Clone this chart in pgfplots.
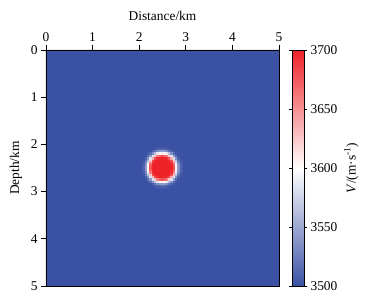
\documentclass[border=0pt]{standalone}
\usepackage{fontspec}
\setmainfont{Liberation Serif}
\usepackage{pgfplots}
\pgfplotsset{compat=1.18}
\definecolor{bgblue}{RGB}{59,82,164}
\begin{document}
\begin{tikzpicture}
\begin{axis}[
  at={(0pt,0pt)}, anchor=south west,
  scale only axis, width=233pt, height=236pt,
  xmin=0, xmax=5, ymin=0, ymax=5, y dir=reverse,
  xtick={0,1,2,3,4,5}, ytick={0,1,2,3,4,5},
  xtick pos=upper, ytick pos=left, xticklabel pos=upper,
  tick align=outside, major tick length=5pt,
  every tick/.style={black, line width=0.6pt},
  axis line style={line width=0.8pt},
  axis on top,
  xlabel={Distance/km}, ylabel={Depth/km},
  xlabel style={font=\fontsize{13.4}{15}\selectfont, yshift=5pt},
  ylabel style={font=\fontsize{13.4}{15}\selectfont, yshift=2pt},
  ticklabel style={font=\fontsize{13.4}{15}\selectfont},
  /pgf/number format/assume math mode=true,
  point meta min=3500, point meta max=3700,
  colormap={bwr}{rgb255=(59,82,164) rgb255=(255,255,255) rgb255=(237,34,40)},
  colorbar right,
  colorbar style={
    at={(parent axis.north east)}, anchor=north west, xshift=4.5pt,
    width=12pt,
    ytick={3500,3550,3600,3650,3700},
    tick align=outside, major tick length=3pt,
    yticklabel pos=right,
    ticklabel style={font=\fontsize{13.4}{15}\selectfont},
    /pgf/number format/assume math mode=true,
    /pgf/number format/1000 sep={},
    ylabel={\textit{V}/(m\textperiodcentered s\textsuperscript{-1})},
    ylabel style={font=\fontsize{13.4}{15}\selectfont},
    axis line style={line width=0.8pt},
  },
]
\addplot[fill=bgblue, draw=none] coordinates {(0,0) (5,0) (5,5) (0,5) (0,0)};
\addplot[matrix plot*, mesh/cols=17, point meta=explicit] table[meta=v, row sep=\\] {
x y v\\
2.10 2.10 3500\\ 2.15 2.10 3500\\ 2.20 2.10 3500\\ 2.25 2.10 3500\\ 2.30 2.10 3500\\ 2.35 2.10 3503\\ 2.40 2.10 3507\\ 2.45 2.10 3509\\ 2.50 2.10 3510\\ 2.55 2.10 3509\\ 2.60 2.10 3507\\ 2.65 2.10 3503\\ 2.70 2.10 3500\\ 2.75 2.10 3500\\ 2.80 2.10 3500\\ 2.85 2.10 3500\\ 2.90 2.10 3500\\
2.10 2.15 3500\\ 2.15 2.15 3500\\ 2.20 2.15 3500\\ 2.25 2.15 3502\\ 2.30 2.15 3509\\ 2.35 2.15 3520\\ 2.40 2.15 3533\\ 2.45 2.15 3542\\ 2.50 2.15 3545\\ 2.55 2.15 3542\\ 2.60 2.15 3533\\ 2.65 2.15 3520\\ 2.70 2.15 3509\\ 2.75 2.15 3502\\ 2.80 2.15 3500\\ 2.85 2.15 3500\\ 2.90 2.15 3500\\
2.10 2.20 3500\\ 2.15 2.20 3500\\ 2.20 2.20 3503\\ 2.25 2.20 3515\\ 2.30 2.20 3536\\ 2.35 2.20 3563\\ 2.40 2.20 3587\\ 2.45 2.20 3604\\ 2.50 2.20 3610\\ 2.55 2.20 3604\\ 2.60 2.20 3587\\ 2.65 2.20 3563\\ 2.70 2.20 3536\\ 2.75 2.20 3515\\ 2.80 2.20 3503\\ 2.85 2.20 3500\\ 2.90 2.20 3500\\
2.10 2.25 3500\\ 2.15 2.25 3502\\ 2.20 2.25 3515\\ 2.25 2.25 3542\\ 2.30 2.25 3582\\ 2.35 2.25 3625\\ 2.40 2.25 3657\\ 2.45 2.25 3674\\ 2.50 2.25 3680\\ 2.55 2.25 3674\\ 2.60 2.25 3657\\ 2.65 2.25 3625\\ 2.70 2.25 3582\\ 2.75 2.25 3542\\ 2.80 2.25 3515\\ 2.85 2.25 3502\\ 2.90 2.25 3500\\
2.10 2.30 3500\\ 2.15 2.30 3509\\ 2.20 2.30 3536\\ 2.25 2.30 3582\\ 2.30 2.30 3637\\ 2.35 2.30 3680\\ 2.40 2.30 3695\\ 2.45 2.30 3699\\ 2.50 2.30 3700\\ 2.55 2.30 3699\\ 2.60 2.30 3695\\ 2.65 2.30 3680\\ 2.70 2.30 3637\\ 2.75 2.30 3582\\ 2.80 2.30 3536\\ 2.85 2.30 3509\\ 2.90 2.30 3500\\
2.10 2.35 3503\\ 2.15 2.35 3520\\ 2.20 2.35 3563\\ 2.25 2.35 3625\\ 2.30 2.35 3680\\ 2.35 2.35 3698\\ 2.40 2.35 3700\\ 2.45 2.35 3700\\ 2.50 2.35 3700\\ 2.55 2.35 3700\\ 2.60 2.35 3700\\ 2.65 2.35 3698\\ 2.70 2.35 3680\\ 2.75 2.35 3625\\ 2.80 2.35 3563\\ 2.85 2.35 3520\\ 2.90 2.35 3503\\
2.10 2.40 3507\\ 2.15 2.40 3533\\ 2.20 2.40 3587\\ 2.25 2.40 3657\\ 2.30 2.40 3695\\ 2.35 2.40 3700\\ 2.40 2.40 3700\\ 2.45 2.40 3700\\ 2.50 2.40 3700\\ 2.55 2.40 3700\\ 2.60 2.40 3700\\ 2.65 2.40 3700\\ 2.70 2.40 3695\\ 2.75 2.40 3657\\ 2.80 2.40 3587\\ 2.85 2.40 3533\\ 2.90 2.40 3507\\
2.10 2.45 3509\\ 2.15 2.45 3542\\ 2.20 2.45 3604\\ 2.25 2.45 3674\\ 2.30 2.45 3699\\ 2.35 2.45 3700\\ 2.40 2.45 3700\\ 2.45 2.45 3700\\ 2.50 2.45 3700\\ 2.55 2.45 3700\\ 2.60 2.45 3700\\ 2.65 2.45 3700\\ 2.70 2.45 3699\\ 2.75 2.45 3674\\ 2.80 2.45 3604\\ 2.85 2.45 3542\\ 2.90 2.45 3509\\
2.10 2.50 3510\\ 2.15 2.50 3545\\ 2.20 2.50 3610\\ 2.25 2.50 3680\\ 2.30 2.50 3700\\ 2.35 2.50 3700\\ 2.40 2.50 3700\\ 2.45 2.50 3700\\ 2.50 2.50 3700\\ 2.55 2.50 3700\\ 2.60 2.50 3700\\ 2.65 2.50 3700\\ 2.70 2.50 3700\\ 2.75 2.50 3680\\ 2.80 2.50 3610\\ 2.85 2.50 3545\\ 2.90 2.50 3510\\
2.10 2.55 3509\\ 2.15 2.55 3542\\ 2.20 2.55 3604\\ 2.25 2.55 3674\\ 2.30 2.55 3699\\ 2.35 2.55 3700\\ 2.40 2.55 3700\\ 2.45 2.55 3700\\ 2.50 2.55 3700\\ 2.55 2.55 3700\\ 2.60 2.55 3700\\ 2.65 2.55 3700\\ 2.70 2.55 3699\\ 2.75 2.55 3674\\ 2.80 2.55 3604\\ 2.85 2.55 3542\\ 2.90 2.55 3509\\
2.10 2.60 3507\\ 2.15 2.60 3533\\ 2.20 2.60 3587\\ 2.25 2.60 3657\\ 2.30 2.60 3695\\ 2.35 2.60 3700\\ 2.40 2.60 3700\\ 2.45 2.60 3700\\ 2.50 2.60 3700\\ 2.55 2.60 3700\\ 2.60 2.60 3700\\ 2.65 2.60 3700\\ 2.70 2.60 3695\\ 2.75 2.60 3657\\ 2.80 2.60 3587\\ 2.85 2.60 3533\\ 2.90 2.60 3507\\
2.10 2.65 3503\\ 2.15 2.65 3520\\ 2.20 2.65 3563\\ 2.25 2.65 3625\\ 2.30 2.65 3680\\ 2.35 2.65 3698\\ 2.40 2.65 3700\\ 2.45 2.65 3700\\ 2.50 2.65 3700\\ 2.55 2.65 3700\\ 2.60 2.65 3700\\ 2.65 2.65 3698\\ 2.70 2.65 3680\\ 2.75 2.65 3625\\ 2.80 2.65 3563\\ 2.85 2.65 3520\\ 2.90 2.65 3503\\
2.10 2.70 3500\\ 2.15 2.70 3509\\ 2.20 2.70 3536\\ 2.25 2.70 3582\\ 2.30 2.70 3637\\ 2.35 2.70 3680\\ 2.40 2.70 3695\\ 2.45 2.70 3699\\ 2.50 2.70 3700\\ 2.55 2.70 3699\\ 2.60 2.70 3695\\ 2.65 2.70 3680\\ 2.70 2.70 3637\\ 2.75 2.70 3582\\ 2.80 2.70 3536\\ 2.85 2.70 3509\\ 2.90 2.70 3500\\
2.10 2.75 3500\\ 2.15 2.75 3502\\ 2.20 2.75 3515\\ 2.25 2.75 3542\\ 2.30 2.75 3582\\ 2.35 2.75 3625\\ 2.40 2.75 3657\\ 2.45 2.75 3674\\ 2.50 2.75 3680\\ 2.55 2.75 3674\\ 2.60 2.75 3657\\ 2.65 2.75 3625\\ 2.70 2.75 3582\\ 2.75 2.75 3542\\ 2.80 2.75 3515\\ 2.85 2.75 3502\\ 2.90 2.75 3500\\
2.10 2.80 3500\\ 2.15 2.80 3500\\ 2.20 2.80 3503\\ 2.25 2.80 3515\\ 2.30 2.80 3536\\ 2.35 2.80 3563\\ 2.40 2.80 3587\\ 2.45 2.80 3604\\ 2.50 2.80 3610\\ 2.55 2.80 3604\\ 2.60 2.80 3587\\ 2.65 2.80 3563\\ 2.70 2.80 3536\\ 2.75 2.80 3515\\ 2.80 2.80 3503\\ 2.85 2.80 3500\\ 2.90 2.80 3500\\
2.10 2.85 3500\\ 2.15 2.85 3500\\ 2.20 2.85 3500\\ 2.25 2.85 3502\\ 2.30 2.85 3509\\ 2.35 2.85 3520\\ 2.40 2.85 3533\\ 2.45 2.85 3542\\ 2.50 2.85 3545\\ 2.55 2.85 3542\\ 2.60 2.85 3533\\ 2.65 2.85 3520\\ 2.70 2.85 3509\\ 2.75 2.85 3502\\ 2.80 2.85 3500\\ 2.85 2.85 3500\\ 2.90 2.85 3500\\
2.10 2.90 3500\\ 2.15 2.90 3500\\ 2.20 2.90 3500\\ 2.25 2.90 3500\\ 2.30 2.90 3500\\ 2.35 2.90 3503\\ 2.40 2.90 3507\\ 2.45 2.90 3509\\ 2.50 2.90 3510\\ 2.55 2.90 3509\\ 2.60 2.90 3507\\ 2.65 2.90 3503\\ 2.70 2.90 3500\\ 2.75 2.90 3500\\ 2.80 2.90 3500\\ 2.85 2.90 3500\\ 2.90 2.90 3500\\
};
\end{axis}
\pgfresetboundingbox
\path[use as bounding box] (-46pt,-13pt) rectangle (321pt,286pt);
\end{tikzpicture}
\end{document}
